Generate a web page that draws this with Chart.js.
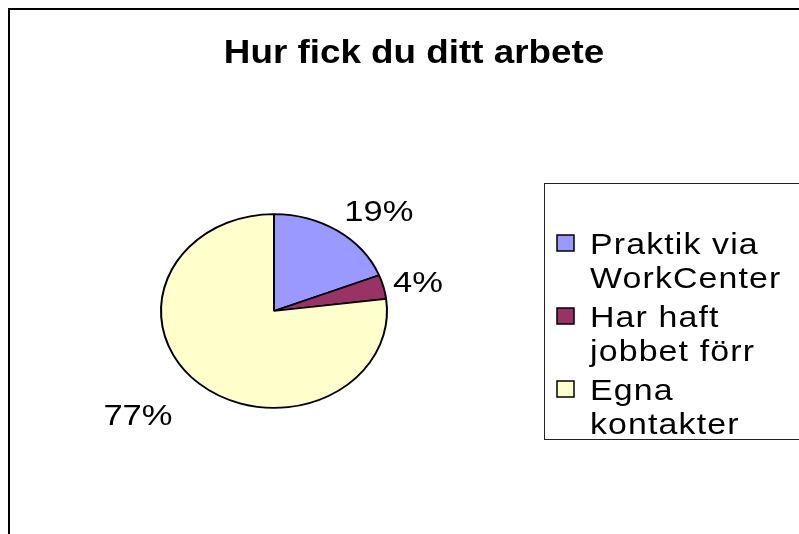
<!DOCTYPE html>
<html>
<head>
<meta charset="utf-8">
<script src="https://cdn.jsdelivr.net/npm/chart.js@4/dist/chart.umd.min.js"></script>
<style>
  html, body { margin: 0; padding: 0; background: #fff; overflow: hidden; }
  canvas { display: block; }
</style>
</head>
<body>
<canvas id="pie-chart" width="799" height="534"></canvas>
<script>
const chartTitle = 'Hur fick du ditt arbete'
const categories = ['Praktik via WorkCenter', 'Har haft jobbet förr', 'Egna kontakter']
const shares = [19, 4, 77]
const sliceColors = ['#9999FF', '#993366', '#FFFFCC']

const FONT = '"Liberation Sans", Arial, sans-serif'

// draws text stretched sideways, the excel export looks wider than arial
function wideText(ctx, str, x, y, font, align, sx, spacing) {
    ctx.save()
    ctx.font = font
    ctx.textAlign = align
    ctx.textBaseline = 'alphabetic'
    ctx.letterSpacing = (spacing || 0) + 'px'
    ctx.fillStyle = '#000'
    ctx.translate(x, y)
    ctx.scale(sx, 1)
    ctx.fillText(str, 0, 0)
    ctx.restore()
}

// split a category name into lines that fit the legend width
function wrapLines(ctx, str, maxW, sx) {
    let words = str.split(' ')
    let lines = []
    let cur = ''
    words.forEach(w => {
        let test = cur ? cur + ' ' + w : w
        if (cur && ctx.measureText(test).width * sx > maxW) {
            lines.push(cur)
            cur = w
        } else {
            cur = test
        }
    })
    if (cur) lines.push(cur)
    return lines
}

const framePlugin = {
    id: 'frame',
    beforeDraw(chart) {
        const ctx = chart.ctx
        ctx.save()
        ctx.fillStyle = '#fff'
        ctx.fillRect(0, 0, chart.width, chart.height)
        ctx.strokeStyle = '#000'
        ctx.lineWidth = 2
        ctx.strokeRect(9, 9, chart.width + 20, chart.height + 20)
        ctx.restore()
        wideText(ctx, chartTitle, 414, 63, 'bold 33px ' + FONT, 'center', 1.115)
    }
}

// squash the round pie into the flat ellipse of the original
const ellipsePlugin = {
    id: 'ellipse',
    beforeDatasetsDraw(chart, args, opts) {
        const arc = chart.getDatasetMeta(0).data[0]
        const ctx = chart.ctx
        ctx.save()
        ctx.translate(arc.x, arc.y)
        ctx.scale(1, opts.squash)
        ctx.translate(-arc.x, -arc.y)
    },
    afterDatasetsDraw(chart) {
        chart.ctx.restore()
    }
}

const labelPlugin = {
    id: 'sliceLabels',
    afterDraw(chart, args, opts) {
        const ctx = chart.ctx
        const meta = chart.getDatasetMeta(0)
        const total = shares.reduce((a, b) => a + b, 0)
        const squash = chart.options.plugins.ellipse.squash

        meta.data.forEach((arc, i) => {
            const mid = (arc.startAngle + arc.endAngle) / 2 + opts.turn[i] * Math.PI / 180
            const r = arc.outerRadius * opts.dist[i]
            const x = arc.x + Math.cos(mid) * r
            const y = arc.y + Math.sin(mid) * r * squash
            const txt = Math.round(shares[i] / total * 100) + '%'
            wideText(ctx, txt, x, y + 11, '30px ' + FONT, 'center', 1.15)
        })

        // legend on the right
        const lg = opts.legend
        ctx.save()
        ctx.strokeStyle = '#222'
        ctx.lineWidth = 1
        ctx.strokeRect(lg.x + 0.5, lg.y + 0.5, chart.width, lg.h)
        ctx.restore()

        let base = lg.firstBaseline
        categories.forEach((name, i) => {
            ctx.save()
            ctx.font = lg.size + 'px ' + FONT
            ctx.letterSpacing = lg.spacing + 'px'
            const lines = wrapLines(ctx, name, lg.maxW, lg.stretch)
            ctx.restore()

            ctx.save()
            ctx.fillStyle = sliceColors[i]
            ctx.fillRect(lg.boxX, base - 19, 17, 16)
            ctx.strokeStyle = '#000'
            ctx.lineWidth = 1.5
            ctx.strokeRect(lg.boxX, base - 19, 17, 16)
            ctx.restore()

            lines.forEach((ln, j) => {
                wideText(ctx, ln, lg.textX, base, lg.size + 'px ' + FONT, 'left', lg.stretch, lg.spacing)
                if (j < lines.length - 1) base += lg.lineStep
            })
            base += lg.lineStep + lg.gap
        })
    }
}

new Chart(document.getElementById('pie-chart'), {
    type: 'pie',
    data: {
        labels: categories,
        datasets: [{
            data: shares,
            backgroundColor: sliceColors,
            borderColor: '#000',
            borderWidth: 2
        }]
    },
    options: {
        responsive: false,
        animation: false,
        devicePixelRatio: 1,
        events: [],
        layout: { padding: { left: 160, right: 411, top: 197, bottom: 109 } },
        plugins: {
            legend: { display: false },
            title: { display: false },
            tooltip: { enabled: false },
            ellipse: { squash: 0.858 },
            sliceLabels: {
                dist: [1.395, 1.311, 1.605],
                turn: [7.5, 0.8, 7.2],
                legend: {
                    x: 544, y: 183, h: 256,
                    boxX: 557, textX: 590,
                    firstBaseline: 254, lineStep: 34, gap: 5,
                    size: 30, stretch: 1.13, spacing: 1, maxW: 205
                }
            }
        }
    },
    plugins: [framePlugin, ellipsePlugin, labelPlugin]
});
</script>
</body>
</html>
